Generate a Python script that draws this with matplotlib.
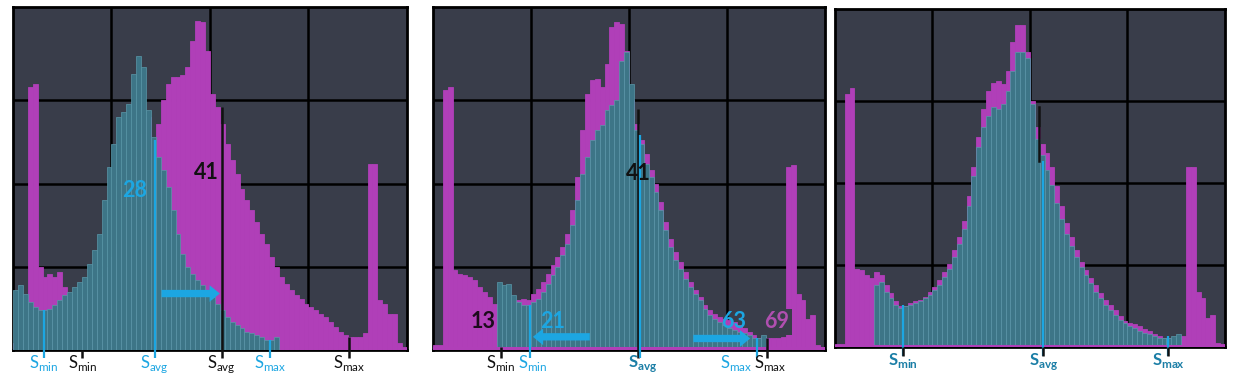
"""
Three histogram panels: shifted (magenta) vs. corrected (teal) intensity
distributions with S_min / S_avg / S_max markers.
"""

import numpy as np
import matplotlib
matplotlib.use("Agg")
import matplotlib.pyplot as plt

plt.rcParams["font.family"] = ["Lato", "DejaVu Sans"]
plt.rcParams["mathtext.fontset"] = "custom"
plt.rcParams["mathtext.rm"] = "Lato"
plt.rcParams["mathtext.bf"] = "Lato:bold"

BIN_W = 1.25
N_BINS = 80

# --- bin heights (percent of panel height) ---
p1_magenta = [2, 2, 3, 79, 80, 25, 22, 23, 22, 23.5,
              19, 16, 15, 15, 16, 17, 18, 20, 22, 25,
              28, 32, 36, 42, 50, 58, 65, 70, 63, 68,
              75, 80, 82, 82, 82.5, 85, 93, 99, 98.5, 90,
              77, 73, 68, 62, 57, 53, 48.5, 45, 42, 38.5,
              35, 32, 28, 25, 22, 20, 18, 16.5, 15.5, 14,
              13, 12, 11, 10, 8.5, 7, 5.5, 4.5, 4, 4,
              4, 5, 56, 56, 15, 14, 11, 11, 2, 1]
p1_teal = [18, 19.5, 17, 14.5, 13, 12, 12, 12.5, 13.5, 15,
           16.5, 17.5, 19, 20.5, 22, 26, 30, 35, 45, 55,
           62, 70, 71.5, 74, 83, 88.5, 85, 72, 64, 58,
           54, 49, 42, 35, 29, 25, 23, 21, 19.5, 18,
           16, 14, 12, 10, 8.5, 7.5, 6.5, 5.5, 5, 4.5,
           4, 3, 3, 4] + [0] * 26

p2_magenta = [1.5, 1.5, 78, 79, 24, 23, 22.5, 22, 21, 19,
              17.5, 16, 14, 12, 11, 11, 12, 15, 15.5, 15,
              17, 18.5, 20.5, 23, 25.5, 28, 31, 35, 42, 52,
              66, 77, 81, 81.5, 79, 86, 97, 98.5, 98, 90,
              75, 68, 63, 59, 54, 50, 44.5, 38.5, 33.5, 29.5,
              26.5, 23.5, 20.5, 18, 16, 13.5, 12, 11, 10, 9.5,
              9, 8.5, 7.5, 6.5, 5.5, 4.5, 3.5, 4, 3.5, 3.5,
              3.5, 4, 55, 55.5, 17, 15, 9.5, 10.5, 1.5, 1]
p2_teal = [0] * 13 + [20.5, 19.5, 20, 16.5, 14.5, 13.5, 13.5,
                      14.5, 15.5, 17.5, 20, 22.5, 25, 28.5, 32, 37.5, 45,
                      53, 58, 63, 66, 67.5, 72, 73.5, 75, 87, 89.5,
                      80, 66, 62, 56, 52, 47.5, 42, 36, 31, 27,
                      24.5, 21.5, 19, 17, 15, 12.5, 10.5, 9.5, 8.5, 7.5,
                      6.5, 6, 5.5, 5, 4.5, 3.5, 3.5, 4.5] + [0] * 12

p3_magenta = [1, 1, 77, 79, 24, 23.5, 22, 21, 23, 22,
              19, 16.5, 14, 12.5, 12.5, 13.5, 14, 14.5, 15.5, 17,
              18.5, 20.5, 23, 25.5, 29.5, 33.5, 38.5, 46, 55, 64,
              72.5, 78, 80.5, 81, 80, 84, 93, 98, 98, 90,
              75, 67, 62, 59, 55, 49, 43, 38, 33.5, 29.5,
              26, 23.5, 21, 19, 16.5, 14.5, 13, 11.5, 9.5, 8,
              7.5, 7, 6.5, 5.5, 5, 4, 3.5, 3, 3, 3,
              3, 3.5, 55, 55, 17, 15, 9, 10, 1.5, 1]
p3_teal = [0] * 8 + [19, 20,
                     17, 15, 13, 12, 12.5, 13, 13.5, 14, 15, 16,
                     17.5, 19, 21.5, 24, 27.5, 31.5, 36, 43, 52, 61,
                     67, 70.5, 73, 72.5, 74, 78, 84, 90, 90, 88,
                     74, 63.5, 58.5, 54, 49.5, 44, 39, 34.5, 31, 27.5,
                     24.5, 22, 19.5, 17, 15, 13, 11.5, 10, 8.5, 7.5,
                     6.5, 6, 5, 4.5, 4, 3.5, 3, 3, 3, 3.5, 4] + [0] * 9

# marker positions (x in panel units 0-100)
p1_markers = {"min_new": 7.9, "min_old": 17.6, "avg_new": 36.0, "avg_old": 53.0,
              "max_new": 65.3, "max_old": 85.2}
p2_markers = {"min_old": 17.3, "min_new": 24.7, "avg_old": 52.3, "avg_new": 52.9,
              "max_new": 82.6, "max_old": 85.1}
p3_markers = {"min": 17.5, "avg_old": 52.4, "avg": 53.4, "max": 85.5}

BG = "#393d4a"
MAGENTA = "#b03fb8"
TEAL = "#3d7587"
TEAL_EDGE = "#5a98a9"
BLUE = "#1ca6e2"
DARK_TEAL = "#1b7ea6"
BLACK = "#111111"


def draw_hist(ax, magenta, teal, baseline=False):
    edges = np.arange(N_BINS) * BIN_W
    ax.set_facecolor(BG)
    ax.bar(edges, magenta, width=BIN_W, align="edge", color=MAGENTA,
           edgecolor=MAGENTA, linewidth=0.6, zorder=3)
    teal = np.array(teal, dtype=float)
    on = teal > 0
    ax.bar(edges[on], teal[on], width=BIN_W, align="edge", color=TEAL,
           edgecolor=TEAL_EDGE, linewidth=0.5, zorder=4)
    if baseline:
        ax.axhspan(0, 0.9, color=MAGENTA, zorder=4.5, lw=0)
    ax.set_xlim(0, 100)
    ax.set_ylim(0, 103)
    ax.set_xticks([25, 50, 75])
    ax.set_yticks([25, 50, 75])
    ax.tick_params(length=0, labelbottom=False, labelleft=False)
    ax.grid(True, color="black", linewidth=1.8)
    ax.set_axisbelow(True)
    for sp in ax.spines.values():
        sp.set_color("black")
        sp.set_linewidth(2)


def vline(ax, x, top, color, lw=1.6):
    ax.plot([x, x], [top, -2.5], color=color, linewidth=lw, zorder=6,
            clip_on=False, solid_capstyle="butt")


def s_label(ax, x, sub, color, bold=False):
    if bold:
        txt = r"$\mathbf{S}_{\mathbf{%s}}$" % sub
    else:
        txt = r"S$_{\mathrm{%s}}$" % sub
    ax.text(x, -1.0, txt, color=color, fontsize=12, ha="center", va="top",
            clip_on=False, zorder=7)


def h_arrow(ax, x0, x1, y):
    ax.arrow(x0, y, x1 - x0, 0, width=2.2, head_width=5.0, head_length=2.6,
             length_includes_head=True, color=BLUE, zorder=7, linewidth=0)


fig = plt.figure(figsize=(12.37, 3.81), dpi=100)
ax1 = fig.add_axes([0.0105, 0.081, 0.3185, 0.900])
ax2 = fig.add_axes([0.350, 0.081, 0.317, 0.900])
ax3 = fig.add_axes([0.675, 0.088, 0.3153, 0.889])

# panel 1
draw_hist(ax1, p1_magenta, p1_teal)
m = p1_markers
vline(ax1, m["min_new"], 12, BLUE)
vline(ax1, m["min_old"], 0, BLACK, lw=1.8)
vline(ax1, m["avg_new"], 63, BLUE)
vline(ax1, m["avg_old"], 73, BLACK, lw=1.8)
vline(ax1, m["max_new"], 3, BLUE)
vline(ax1, m["max_old"], 4, BLACK, lw=1.8)
s_label(ax1, m["min_new"], "min", BLUE)
s_label(ax1, m["min_old"], "min", BLACK)
s_label(ax1, m["avg_new"], "avg", BLUE)
s_label(ax1, m["avg_old"], "avg", BLACK)
s_label(ax1, m["max_new"], "max", BLUE)
s_label(ax1, m["max_old"], "max", BLACK)
ax1.text(30.9, 48, "28", color=BLUE, fontsize=15.5, fontweight="bold",
         ha="center", va="center", zorder=7)
ax1.text(49.2, 53.5, "41", color=BLACK, fontsize=15.5, fontweight="bold",
         ha="center", va="center", zorder=7)
h_arrow(ax1, 37.7, 52.5, 17)

# panel 2
draw_hist(ax2, p2_magenta, p2_teal, baseline=True)
m = p2_markers
vline(ax2, m["avg_old"], 72.5, BLACK, lw=1.8)
vline(ax2, m["avg_new"], 64.5, BLUE)
vline(ax2, m["min_new"], 13.5, BLUE)
vline(ax2, m["min_old"], 1, BLACK, lw=1.8)
vline(ax2, m["max_new"], 3.5, BLUE)
vline(ax2, m["max_old"], 3.5, BLACK, lw=1.8)
s_label(ax2, m["min_old"], "min", BLACK)
s_label(ax2, m["min_new"] + 0.8, "min", BLUE)
s_label(ax2, m["avg_new"] + 0.6, "avg", DARK_TEAL, bold=True)
s_label(ax2, m["max_new"] - 5.2, "max", BLUE)
s_label(ax2, m["max_old"] + 0.8, "max", BLACK)
ax2.text(12.8, 8.5, "13", color="#1c0b1c", fontsize=15.5, fontweight="bold",
         ha="center", va="center", zorder=7)
ax2.text(30.6, 8.5, "21", color=BLUE, fontsize=15.5, fontweight="bold",
         ha="center", va="center", zorder=7)
ax2.text(52.3, 53, "41", color=BLACK, fontsize=15.5, fontweight="bold",
         ha="center", va="center", zorder=7)
ax2.text(76.6, 8.5, "63", color=BLUE, fontsize=15.5, fontweight="bold",
         ha="center", va="center", zorder=7)
ax2.text(87.7, 8.5, "69", color="#b04fb0", fontsize=15.5, fontweight="bold",
         ha="center", va="center", zorder=7,
         bbox=dict(boxstyle="square,pad=0.12", facecolor=BG, edgecolor="none"))
h_arrow(ax2, 40.0, 25.5, 4.0)
h_arrow(ax2, 66.4, 80.9, 3.5)

# panel 3
draw_hist(ax3, p3_magenta, p3_teal, baseline=True)
m = p3_markers
ax3.plot([m["avg_old"], m["avg_old"]], [73, 56.6], color=BLACK, linewidth=1.8,
         zorder=6)
vline(ax3, m["min"], 12.8, BLUE)
vline(ax3, m["avg"], 56.6, BLUE)
vline(ax3, m["max"], 3.5, BLUE)
for key, sub in (("min", "min"), ("avg", "avg"), ("max", "max")):
    ax3.plot([m[key], m[key]], [0, -2.5], color=BLACK, linewidth=1.8,
             zorder=6.5, clip_on=False, solid_capstyle="butt")
    s_label(ax3, m[key], sub, DARK_TEAL, bold=True)

fig.savefig("out.png", dpi=100, facecolor="white")
